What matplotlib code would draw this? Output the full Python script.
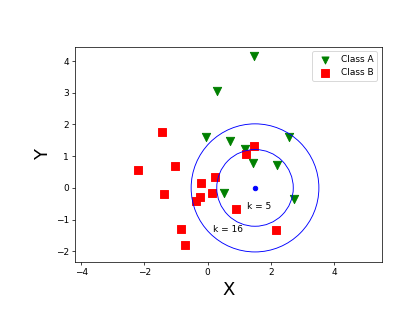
import matplotlib
matplotlib.use("Agg")
import matplotlib.pyplot as plt
import numpy as np

# class A (green triangles)
a_x = [1.48, 0.31, -0.04, 0.72, 2.58, 1.19, 1.45, 2.21, 0.53, 2.74]
a_y = [4.17, 3.06, 1.60, 1.49, 1.60, 1.23, 0.80, 0.73, -0.17, -0.36]

# class B (red squares)
b_x = [1.48, 1.21, -1.45, -2.21, -1.03, -1.37, -0.21, 0.23, 0.13, -0.24, -0.37, 0.89, -0.85, -0.72, 2.16]
b_y = [1.33, 1.07, 1.75, 0.56, 0.69, -0.19, 0.15, 0.33, -0.17, -0.30, -0.40, -0.68, -1.30, -1.80, -1.33]

# query point and neighbourhood radii
query = (1.5, 0.0)
radii = [1.21, 2.02]
k_labels = ["k = 5", "k = 16"]
k_pos = [(1.26, -0.59), (0.18, -1.30)]

fig = plt.figure(figsize=(415 / 65, 312 / 65), dpi=65)
ax = fig.add_axes([0.181, 0.161, 0.739, 0.689])

ax.scatter(a_x, a_y, marker="v", color="green", s=85, label="Class A")
ax.scatter(b_x, b_y, marker="s", color="red", s=85, label="Class B")
ax.plot(query[0], query[1], "o", color="blue", ms=5)

for r in radii:
    ax.add_patch(plt.Circle(query, r, fill=False, color="blue", lw=1))
for t, p in zip(k_labels, k_pos):
    ax.text(p[0], p[1], t, fontsize=10, va="center")

ax.set_xlim(-4.19, 5.51)
ax.set_ylim(-2.33, 4.45)
ax.set_xticks([-4, -2, 0, 2, 4])
ax.set_yticks([-2, -1, 0, 1, 2, 3, 4])
ax.set_xlabel("X", fontsize=20)
ax.set_ylabel("Y", fontsize=20)
ax.legend(loc="upper right", markerscale=0.85)

fig.savefig("out.png", dpi=65)
